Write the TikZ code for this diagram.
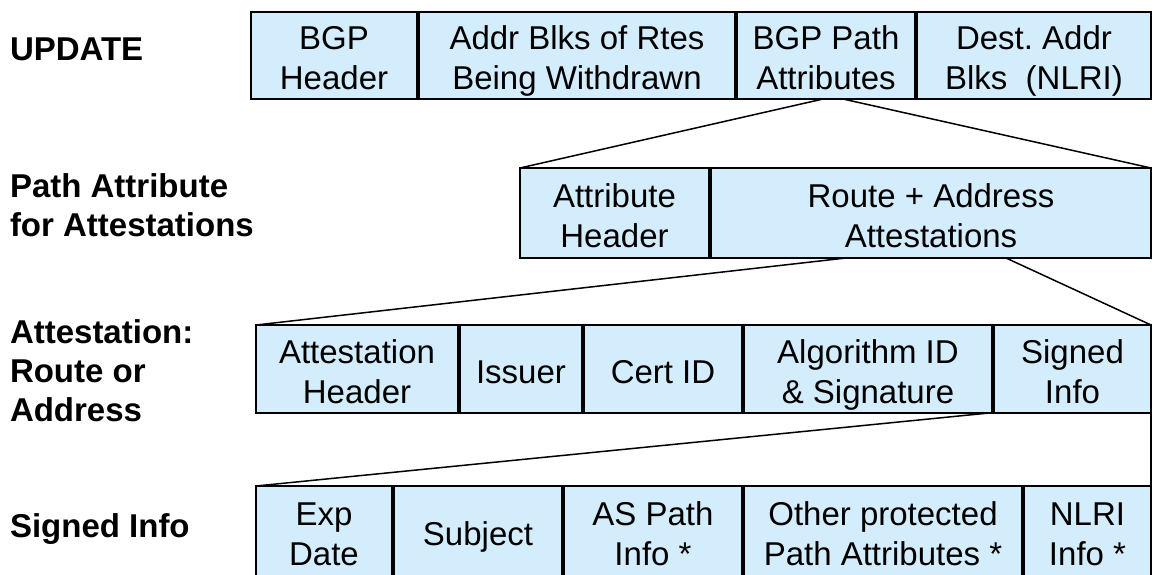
\documentclass[tikz,border=0pt]{standalone}
\usepackage{fontspec}
\setmainfont{Liberation Sans}
\definecolor{cellblue}{RGB}{212,237,252}
% one line of text with a fixed height, so every cell centres alike
\newcommand\rl[1]{\rule{0pt}{28pt}\smash{#1}}
\tikzset{
  cell/.style={draw=black, line width=1.5pt, fill=cellblue, inner sep=0pt, outer sep=0pt,
    align=center, font=\fontsize{33}{40}\selectfont, anchor=north west},
  rowlabel/.style={inner sep=0pt, outer sep=0pt, align=left, anchor=north west,
    font=\fontsize{33}{39}\selectfont\bfseries},
  link/.style={draw=black, line width=1.5pt}
}
% \mkcell{name}{left}{right}{top}{bottom}{text}
\newcommand\mkcell[6]{\node[cell, minimum width={(#3-#2)*1pt}, minimum height={(#5-#4)*1pt}] (#1) at (#2,#4) {#6};}
\begin{document}
\begin{tikzpicture}[x=1pt, y=-1pt]
\useasboundingbox (0,0) rectangle (1154,575);
\clip (0,0) rectangle (1154,575);

% row labels
\node[rowlabel] (lupdate) at (10,33) {\rl{UPDATE}};
\node[rowlabel] (lpath) at (10,169) {\rl{Path Attribute}\\\rl{for Attestations}};
\node[rowlabel] (latt) at (10,315) {\rl{Attestation:}\\\rl{Route or}\\\rl{Address}};
\node[rowlabel] (lsigned) at (10,509) {\rl{Signed Info}};

% UPDATE message
\mkcell{bgphdr}{251}{417}{12}{99}{\rl{BGP}\\\rl{Header}}
\mkcell{withdrawn}{419}{735}{12}{99}{\rl{Addr Blks of Rtes}\\\rl{Being Withdrawn}}
\mkcell{bgppath}{737}{915}{12}{99}{\rl{BGP Path}\\\rl{Attributes}}
\mkcell{nlriblk}{917}{1151}{12}{99}{\rl{Dest.\ Addr}\\\rl{Blks\ \ (NLRI)}}

% path attribute
\mkcell{attrhdr}{520}{709}{168}{258}{\rl{Attribute}\\\rl{Header}}
\mkcell{routeaddr}{711}{1151}{168}{258}{\rl{Route + Address}\\\rl{Attestations}}

% attestation
\mkcell{atthdr}{256}{458}{325}{413}{\rl{Attestation}\\\rl{Header}}
\mkcell{issuer}{460}{582}{325}{413}{\rl{Issuer}}
\mkcell{certid}{584}{742}{325}{413}{\rl{Cert ID}}
\mkcell{algsig}{744}{992}{325}{413}{\rl{Algorithm ID}\\\rl{\& Signature}}
\mkcell{signed}{994}{1151}{325}{413}{\rl{Signed}\\\rl{Info}}

% signed info
\mkcell{expdate}{256}{392}{486}{576}{\rl{Exp}\\\rl{Date}}
\mkcell{subject}{394}{562}{486}{576}{\rl{Subject}}
\mkcell{aspath}{564}{742}{486}{576}{\rl{AS Path}\\\rl{Info *}}
\mkcell{otherattr}{744}{1022}{486}{576}{\rl{Other protected}\\\rl{Path Attributes *}}
\mkcell{nlri}{1024}{1151}{486}{576}{\rl{NLRI}\\\rl{Info *}}

% expansion lines
\draw[link] ([xshift=-3pt]bgppath.south) -- (attrhdr.north west);
\draw[link] ([xshift=17pt]bgppath.south) -- (routeaddr.north east);
\draw[link] ([xshift=-85pt]routeaddr.south) -- (atthdr.north west);
\draw[link] ([xshift=75pt]routeaddr.south) -- (signed.north east);
\draw[link] ([xshift=-3pt]algsig.south east) -- (expdate.north west);
\draw[link] (signed.south east) -- (nlri.north east);
\end{tikzpicture}
\end{document}
